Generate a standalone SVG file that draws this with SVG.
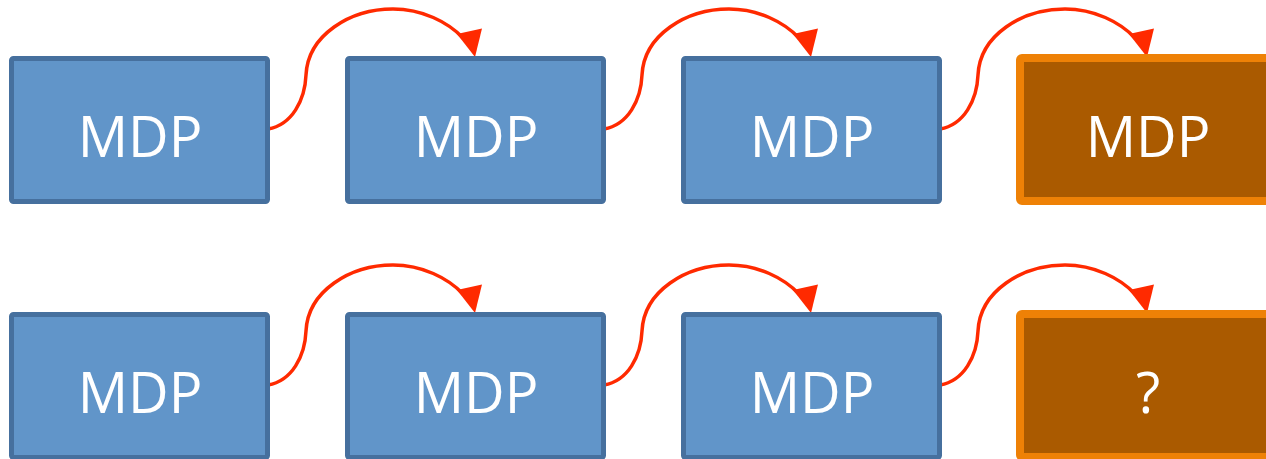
<svg xmlns="http://www.w3.org/2000/svg" width="1266" height="459" viewBox="0 0 1266 459">
<defs>
<style>
.blue{fill:#6195c9;stroke:#46709e;stroke-width:5}
.orange{fill:#aa5a00;stroke:#ee8106;stroke-width:8}
.lbl{font-family:"Open Sans","Liberation Sans",sans-serif;font-size:56px;fill:#ffffff;text-anchor:middle}
.conn{fill:none;stroke:#ff2a00;stroke-width:3.5;stroke-linecap:round}
</style>
<path id="arc" d="M268,129 C292,125 305,100 306,75 C308,35 350,9 393,9 C422,9 448,22 463,38"/>
<polygon id="head" points="457,34 482,28.5 475,57" fill="#ff2a00"/>
</defs>
<rect width="1266" height="459" fill="#ffffff"/>
<g id="connectors">
<use href="#arc" class="conn"/><use href="#head"/>
<use href="#arc" class="conn" x="336"/><use href="#head" x="336"/>
<use href="#arc" class="conn" x="672"/><use href="#head" x="672"/>
<use href="#arc" class="conn" y="256"/><use href="#head" y="256"/>
<use href="#arc" class="conn" x="336" y="256"/><use href="#head" x="336" y="256"/>
<use href="#arc" class="conn" x="672" y="256"/><use href="#head" x="672" y="256"/>
</g>
<g id="node-r1c1"><rect class="blue" x="11.5" y="58.5" width="256" height="143" rx="2"/><text class="lbl" x="140" y="157">MDP</text></g>
<g id="node-r1c2"><rect class="blue" x="347.5" y="58.5" width="256" height="143" rx="2"/><text class="lbl" x="476" y="157">MDP</text></g>
<g id="node-r1c3"><rect class="blue" x="683.5" y="58.5" width="256" height="143" rx="2"/><text class="lbl" x="812" y="157">MDP</text></g>
<g id="node-r1c4"><rect class="orange" x="1020" y="58" width="270" height="143" rx="2"/><text class="lbl" x="1148" y="157">MDP</text></g>
<g id="node-r2c1"><rect class="blue" x="11.5" y="314.5" width="256" height="143" rx="2"/><text class="lbl" x="140" y="413">MDP</text></g>
<g id="node-r2c2"><rect class="blue" x="347.5" y="314.5" width="256" height="143" rx="2"/><text class="lbl" x="476" y="413">MDP</text></g>
<g id="node-r2c3"><rect class="blue" x="683.5" y="314.5" width="256" height="143" rx="2"/><text class="lbl" x="812" y="413">MDP</text></g>
<g id="node-r2c4"><rect class="orange" x="1020" y="314" width="270" height="143" rx="2"/><text class="lbl" x="1148" y="413">?</text></g>
</svg>
